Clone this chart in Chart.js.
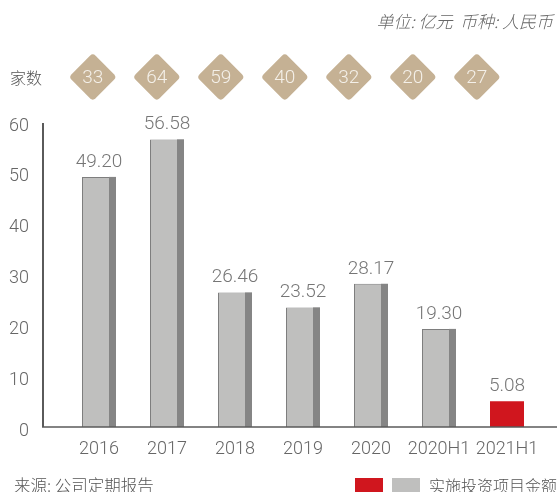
<!DOCTYPE html>
<html>
<head>
<meta charset="utf-8">
<script src="https://cdn.jsdelivr.net/npm/chart.js@4/dist/chart.umd.min.js"></script>
<style>
  html, body { margin: 0; padding: 0; background: #fff; }
  #wrap { position: relative; width: 557px; height: 492px; overflow: hidden; }
  canvas { position: absolute; left: 0; top: 0; }
  .txt { position: absolute; white-space: nowrap; font-family: "Noto Sans CJK SC", sans-serif; font-weight: 300; color: #555; line-height: 1; }
  #unit { right: 4px; top: 12px; font-size: 17px; font-style: italic; color: #666; }
  #jiashu { left: 10px; top: 69px; font-size: 16px; color: #555; }
  #source { left: 14px; top: 477px; font-size: 16.5px; color: #555; }
  .box { position: absolute; top: 478px; width: 28px; height: 15px; }
  #legtext { left: 429px; top: 477px; font-size: 16px; color: #555; }
</style>
</head>
<body>
<div id="wrap">
  <canvas id="c" width="557" height="492"></canvas>
  <div class="txt" id="unit">单位: 亿元&nbsp;&nbsp;币种: 人民币</div>
  <div class="txt" id="jiashu">家数</div>
  <div class="txt" id="source">来源: 公司定期报告</div>
  <div class="box" style="left:355px;background:#d0161e"></div>
  <div class="box" style="left:392px;background:#bfbfbe"></div>
  <div class="txt" id="legtext">实施投资项目金额</div>
</div>
<script>
const categories = ['2016', '2017', '2018', '2019', '2020', '2020H1', '2021H1'];
const amounts = [49.20, 56.58, 26.46, 23.52, 28.17, 19.30, 5.08];
const counts = [33, 64, 59, 40, 32, 20, 27];
const yTicks = [0, 10, 20, 30, 40, 50, 60];

const GRAY = '#bfbfbe';
const GRAY_DARK = '#858585';
const RED = '#d0161e';
const NUM_FONT = '"Roboto", "Liberation Sans", sans-serif';

const barColors = amounts.map((v, i) => i === amounts.length - 1 ? RED : GRAY);

const decorPlugin = {
  id: 'decor',
  afterDatasetsDraw(chart) {
    const ctx = chart.ctx;
    const meta = chart.getDatasetMeta(0);
    const ys = chart.scales.y;
    const area = chart.chartArea;
    ctx.save();
    // dark right side strip on the gray bars
    meta.data.forEach((el, i) => {
      if (i === amounts.length - 1) return;
      const right = el.x + el.width / 2;
      ctx.fillStyle = GRAY_DARK;
      ctx.fillRect(right - 7, el.y, 7, el.base - el.y);
    });
    // value labels
    ctx.fillStyle = '#767676';
    ctx.font = '300 19px ' + NUM_FONT;
    ctx.textAlign = 'center';
    ctx.textBaseline = 'alphabetic';
    meta.data.forEach((el, i) => {
      ctx.fillText(amounts[i].toFixed(2), el.x, el.y - 10);
    });
    // axis lines
    ctx.strokeStyle = '#5a5a5a';
    ctx.lineWidth = 2;
    ctx.beginPath();
    ctx.moveTo(43, ys.getPixelForValue(60) + 1);
    ctx.lineTo(43, area.bottom);
    ctx.stroke();
    ctx.lineWidth = 1.6;
    ctx.beginPath();
    ctx.moveTo(42, area.bottom);
    ctx.lineTo(557, area.bottom);
    ctx.stroke();
    // count diamonds
    const xd = chart.scales.xd;
    const cy = 77;
    const side = 34, r = 4;
    counts.forEach((c, i) => {
      const cx = xd.getPixelForValue(i);
      ctx.save();
      ctx.translate(cx, cy);
      ctx.rotate(Math.PI / 4);
      ctx.fillStyle = '#c5b194';
      ctx.beginPath();
      ctx.roundRect(-side / 2, -side / 2, side, side, r);
      ctx.fill();
      ctx.restore();
      ctx.fillStyle = '#f4f0e9';
      ctx.font = '300 19px ' + NUM_FONT;
      ctx.textAlign = 'center';
      ctx.textBaseline = 'middle';
      ctx.fillText(String(c), cx, cy + 1);
    });
    ctx.restore();
  }
};

new Chart(document.getElementById('c'), {
  type: 'bar',
  data: {
    labels: categories,
    datasets: [{
      data: amounts,
      backgroundColor: barColors,
      borderColor: amounts.map((v, i) => i === amounts.length - 1 ? RED : '#7e7e7e'),
      borderWidth: amounts.map((v, i) => i === amounts.length - 1 ? 0 : { top: 1, left: 1, right: 0, bottom: 0 }),
      borderSkipped: false,
      categoryPercentage: 1,
      barPercentage: 0.5
    }]
  },
  options: {
    responsive: false,
    animation: false,
    events: [],
    layout: { padding: { top: 122, right: 16, left: 0, bottom: 0 } },
    plugins: { legend: { display: false }, tooltip: { enabled: false } },
    scales: {
      x: {
        grid: { display: false, drawTicks: false },
        border: { display: false },
        ticks: { color: '#666', font: { family: NUM_FONT, size: 18, weight: '300' }, padding: 12, maxRotation: 0, autoSkip: false },
        afterFit(s) { s.height = 65; }
      },
      y: {
        min: 0, max: 60,
        grid: { display: false, drawTicks: false },
        border: { display: false },
        afterBuildTicks(s) { s.ticks = yTicks.map(v => ({ value: v })); },
        ticks: { color: '#666', font: { family: NUM_FONT, size: 18, weight: '300' }, padding: 36, labelOffset: 4 },
        afterFit(s) { s.width = 65; }
      },
      xd: {
        type: 'linear', display: false, position: 'top',
        bounds: 'data', grace: 0,
        min: -0.434, max: 7.003,
        afterBuildTicks(s) { s.ticks = []; }
      }
    }
  },
  plugins: [decorPlugin]
});
</script>
</body>
</html>
